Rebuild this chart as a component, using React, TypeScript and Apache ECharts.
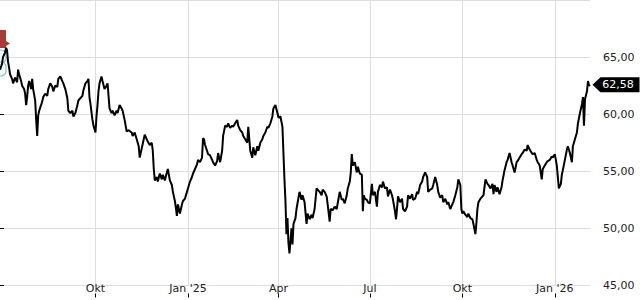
import React, { useEffect, useRef } from "react";
import * as echarts from "echarts";

const START_DATE = "2024-06-28";
const END_DATE = "2026-02-05";
const tickDates = ["2024-10-01", "2025-01-01", "2025-04-01", "2025-07-01", "2025-10-01", "2026-01-01"];
const tickLabels = ["Okt", "Jan '25", "Apr", "Jul", "Okt", "Jan '26"];
const yMin = 45;
const yMax = 70;
const yStep = 5;
const lastPrice = 62.58;

// [days since START_DATE, price]
const quotes: [number, number][] = [
  [0, 63.9], [2, 64.4], [3, 65.0], [5, 65.4], [6, 65.8], [7, 65.6], [8, 64.6], [9, 64.1], [10, 63.5],
  [12, 63.1], [13, 62.7], [15, 63.2], [17, 62.8], [18, 63.9], [19, 63.5], [21, 62.9], [22, 62.5],
  [24, 62.2], [25, 61.8], [26, 60.8], [27, 61.5], [28, 62.5], [29, 62.9], [31, 62.2], [32, 63.1],
  [33, 62.2], [35, 61.2], [36, 59.5], [37, 58.1], [38, 59.9], [39, 60.3], [42, 61.1], [43, 61.5],
  [45, 61.8], [47, 61.6], [48, 62.2], [50, 62.7], [52, 62.4], [53, 62.0], [55, 62.5], [57, 62.4],
  [58, 63.1], [60, 63.3], [62, 62.9], [63, 62.7], [65, 62.2], [67, 61.4], [68, 60.3], [70, 60.1],
  [72, 60.3], [73, 59.8], [75, 60.1], [77, 60.8], [78, 61.2], [80, 61.4], [82, 61.6], [83, 62.1],
  [85, 62.7], [87, 62.9], [88, 63.1], [89, 61.5], [90, 60.9], [92, 59.5], [93, 59.0], [95, 58.4],
  [96, 59.8], [97, 60.8], [98, 62.0], [99, 62.7], [101, 63.3], [102, 62.9], [104, 62.2], [106, 62.5],
  [107, 62.7], [109, 60.5], [111, 60.1], [112, 60.3], [114, 59.9], [116, 60.3], [117, 60.1], [119, 60.8],
  [121, 60.5], [122, 60.3], [124, 59.5], [125, 59.0], [126, 58.5], [128, 58.6], [131, 58.4], [132, 58.1],
  [134, 58.4], [136, 57.8], [138, 57.2], [139, 56.2], [141, 57.0], [143, 57.8], [144, 58.2], [146, 57.8],
  [147, 57.6], [149, 57.3], [151, 57.5], [152, 56.8], [153, 55.2], [154, 54.2], [156, 54.5], [157, 54.1],
  [159, 54.8], [161, 54.3], [162, 54.7], [164, 54.2], [166, 54.9], [167, 55.2], [169, 54.2], [171, 53.8],
  [172, 53.2], [174, 52.4], [175, 51.8], [176, 51.1], [177, 52.1], [179, 51.3], [181, 52.1], [182, 52.4],
  [184, 52.6], [186, 53.2], [187, 53.5], [189, 54.1], [191, 54.5], [192, 54.8], [194, 55.2], [196, 55.6],
  [197, 56.0], [199, 55.8], [201, 56.2], [202, 57.9], [203, 57.8], [204, 57.3], [206, 56.8], [207, 56.5],
  [209, 56.4], [211, 56.0], [212, 55.8], [214, 55.5], [216, 55.9], [217, 56.6], [219, 55.8], [221, 56.8],
  [222, 58.1], [224, 59.0], [226, 58.9], [227, 59.2], [229, 58.8], [231, 59.0], [232, 58.9], [234, 59.2],
  [236, 59.5], [237, 59.0], [239, 58.6], [241, 58.4], [242, 58.1], [244, 57.8], [246, 57.5], [247, 58.9],
  [249, 56.8], [251, 56.2], [252, 57.1], [254, 56.4], [256, 57.2], [257, 56.8], [259, 57.5], [261, 57.8],
  [262, 58.1], [264, 58.4], [266, 58.9], [267, 58.8], [269, 59.2], [271, 59.8], [272, 60.5], [274, 60.8],
  [276, 60.1], [277, 59.7], [279, 59.8], [281, 58.9], [282, 56.6], [283, 54.3], [284, 52.4], [285, 49.5],
  [286, 50.9], [287, 48.7], [288, 47.8], [290, 50.0], [291, 48.6], [292, 50.4], [294, 50.9], [295, 51.7],
  [296, 52.2], [298, 53.2], [300, 52.5], [301, 52.9], [303, 52.3], [305, 50.4], [306, 51.3], [308, 50.8],
  [310, 51.2], [311, 50.9], [313, 51.7], [315, 53.5], [316, 53.4], [318, 53.2], [320, 52.9], [321, 53.4],
  [323, 53.2], [325, 52.8], [326, 52.1], [328, 50.6], [329, 51.7], [331, 51.6], [333, 51.9], [335, 51.7],
  [336, 52.2], [338, 53.2], [340, 52.5], [341, 52.6], [343, 52.2], [345, 52.9], [346, 53.5], [348, 54.1],
  [349, 54.9], [350, 56.5], [351, 55.5], [353, 55.8], [355, 54.9], [356, 55.4], [358, 54.8], [360, 54.7],
  [361, 51.5], [362, 52.9], [363, 52.6], [365, 52.5], [366, 52.3], [368, 52.2], [370, 53.9], [371, 52.9],
  [373, 53.2], [375, 51.9], [376, 53.2], [378, 53.8], [380, 53.6], [381, 54.1], [383, 53.5], [385, 53.6],
  [386, 52.8], [388, 53.4], [390, 52.9], [391, 52.5], [393, 51.5], [394, 50.8], [395, 51.7], [396, 52.8],
  [398, 52.3], [400, 52.6], [401, 51.7], [403, 51.5], [405, 51.9], [406, 52.9], [408, 52.6], [410, 53.0],
  [411, 52.5], [413, 52.6], [415, 53.2], [416, 53.0], [418, 53.8], [420, 54.1], [421, 54.5], [423, 54.9],
  [425, 54.5], [426, 53.2], [428, 53.4], [430, 53.5], [431, 53.8], [433, 54.5], [435, 53.8], [436, 53.2],
  [438, 52.7], [440, 52.9], [441, 52.3], [443, 52.6], [445, 52.1], [446, 52.3], [448, 51.7], [450, 52.1],
  [451, 52.3], [453, 52.9], [455, 53.6], [456, 54.3], [458, 53.8], [459, 51.7], [460, 51.3], [461, 51.5],
  [463, 51.2], [465, 51.0], [466, 51.3], [468, 50.9], [470, 50.8], [471, 50.4], [473, 49.5], [474, 50.5],
  [475, 51.7], [476, 52.3], [478, 52.6], [480, 52.8], [481, 52.9], [483, 54.3], [485, 53.9], [486, 53.8],
  [488, 53.5], [490, 53.9], [491, 53.0], [492, 53.8], [494, 53.2], [495, 53.6], [497, 53.0], [499, 53.6],
  [500, 54.2], [502, 55.1], [504, 55.8], [505, 56.0], [507, 56.6], [509, 55.8], [510, 55.5], [512, 54.9],
  [514, 55.8], [515, 55.9], [517, 56.2], [519, 56.5], [520, 56.6], [522, 56.9], [524, 56.8], [525, 57.3],
  [527, 56.9], [529, 56.6], [530, 56.5], [532, 56.6], [534, 56.0], [535, 55.8], [537, 55.5], [539, 54.3],
  [540, 55.2], [542, 55.5], [544, 55.8], [545, 55.9], [547, 56.0], [549, 56.3], [550, 56.2], [552, 56.5],
  [554, 55.5], [555, 54.5], [556, 53.5], [558, 53.9], [559, 54.7], [560, 55.1], [562, 56.0], [564, 56.9],
  [565, 57.2], [567, 56.6], [569, 55.8], [570, 57.2], [572, 57.8], [574, 58.4], [575, 59.2], [577, 60.1],
  [579, 60.9], [580, 61.5], [581, 59.0], [582, 61.3], [584, 62.0], [585, 62.9], [586, 62.5], [587, 62.58],
];

const DAY_MS = 86400000;
const toDay = (s: string) => Math.round((Date.parse(s) - Date.parse(START_DATE)) / DAY_MS);
const tickDays = tickDates.map(toDay);
const lastDay = toDay(END_DATE);
const fmtPrice = (v: number) => v.toFixed(2).replace(".", ",");

export default function App() {
  const ref = useRef<HTMLDivElement>(null);
  useEffect(() => {
    if (!ref.current) return;
    const chart = echarts.init(ref.current, null, { renderer: "svg" });
    const font = "DejaVu Sans";
    chart.setOption({
      animation: false,
      backgroundColor: "#ffffff",
      textStyle: { fontFamily: font },
      grid: { left: 0, right: 50, top: -5.5, bottom: 14.5, containLabel: false },
      xAxis: [
        {
          type: "value",
          min: 0,
          max: lastDay,
          position: "bottom",
          axisLine: { show: false },
          axisTick: { show: false, customValues: tickDays },
          axisLabel: {
            customValues: tickDays,
            formatter: (v: number) => tickLabels[tickDays.indexOf(Math.round(v))] ?? "",
            margin: -3,
            fontSize: 11,
            color: "#222",
            fontFamily: font,
          },
          splitLine: { show: true, lineStyle: { color: "#dddddd", width: 1 } },
        },
        {
          type: "value",
          min: 0,
          max: lastDay,
          position: "bottom",
          offset: 8,
          axisLine: { show: false },
          axisTick: { show: true, length: 4, customValues: tickDays, lineStyle: { color: "#000" } },
          axisLabel: { show: false },
          splitLine: { show: false },
        },
      ],
      yAxis: {
        type: "value",
        position: "right",
        min: yMin,
        max: yMax,
        interval: yStep,
        offset: 2,
        axisLine: { show: false },
        axisTick: { show: true, length: 4, lineStyle: { color: "#000" } },
        axisLabel: {
          formatter: (v: number) => fmtPrice(v),
          margin: 11,
          fontSize: 11,
          color: "#222",
          fontFamily: font,
          showMaxLabel: false,
        },
        splitLine: { show: true, lineStyle: { color: "#dddddd", width: 1 } },
      },
      series: [
        {
          type: "line",
          data: quotes,
          xAxisIndex: 0,
          showSymbol: false,
          symbol: "none",
          lineStyle: { color: "#000", width: 2 },
          z: 3,
          markPoint: {
            silent: true,
            symbol: "path://M0,7L8,0L47,0L47,14L8,14Z",
            symbolSize: [47, 15],
            symbolOffset: [26, 0],
            itemStyle: { color: "#000" },
            label: {
              show: true,
              position: "inside",
              offset: [2, 0],
              color: "#fff",
              fontSize: 11,
              fontFamily: font,
              formatter: () => fmtPrice(lastPrice),
            },
            data: [{ coord: [lastDay, lastPrice] }],
          },
        },
      ],
      graphic: [
        { type: "rect", z: 1, shape: { x: 0, y: 30, width: 6, height: 18 }, style: { fill: "#a83b33" } },
        { type: "polygon", z: 1, shape: { points: [[6, 41], [10, 43.5], [6, 46]] }, style: { fill: "#a83b33" } },
        { type: "rect", z: 1, shape: { x: -6, y: 50, width: 12, height: 13, r: 5 }, style: { fill: "#f4fafb", stroke: "#7cc3cd", lineWidth: 1.2 } },
        { type: "rect", z: 1, shape: { x: -6, y: 62, width: 12, height: 14, r: 5 }, style: { fill: "#f4fafb", stroke: "#7cc3cd", lineWidth: 1.2 } },
      ],
    });
    return () => chart.dispose();
  }, []);
  return <div ref={ref} style={{ position: "fixed", left: 0, top: 0, width: 640, height: 300 }} />;
}
